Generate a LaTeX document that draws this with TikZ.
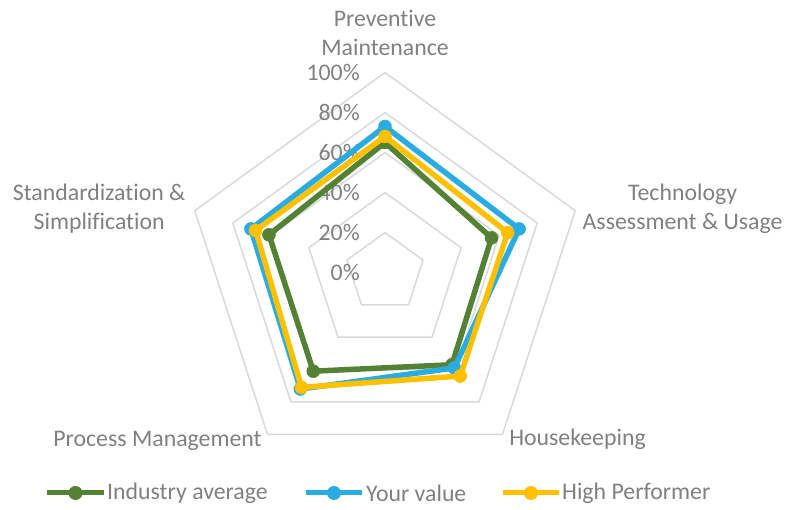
\documentclass[tikz,border=0pt]{standalone}
\usepackage{fontspec}
\setmainfont{Carlito}[Ligatures={NoCommon}]
\usetikzlibrary{positioning,plotmarks}
\definecolor{avggreen}{HTML}{548235}
\definecolor{youblue}{HTML}{2AACE2}
\definecolor{highgold}{HTML}{FFC000}
\definecolor{txtgray}{HTML}{808080}
\definecolor{gridgray}{HTML}{D9D9D9}
\tikzstyle{lbl} = [font=\fontsize{23.8}{29}\selectfont, text=txtgray, inner sep=0pt, align=center]
\tikzstyle{ring} = [draw=gridgray, line width=1.5pt, line join=round]
\tikzstyle{avg} = [draw=avggreen, line width=5.5pt, line join=round, mark=*, mark size=6.5pt, mark options={fill=avggreen, draw=avggreen, line width=0.5pt}]
\tikzstyle{you} = [draw=youblue, line width=5.5pt, line join=round, mark=*, mark size=6.5pt, mark options={fill=youblue, draw=youblue, line width=0.5pt}]
\tikzstyle{high} = [draw=highgold, line width=5.5pt, line join=round, mark=*, mark size=6.5pt, mark options={fill=highgold, draw=highgold, line width=0.5pt}]
\tikzstyle{key} = [circle, inner sep=0pt, minimum size=14pt]

\begin{document}
\begin{tikzpicture}[x=2pt, y=2pt]
\useasboundingbox (-192.5,-118.75) rectangle (201,136.25);

\draw [ring] (90:20) -- (18:20) -- (-54:20) -- (-126:20) -- (162:20) -- cycle;
\draw [ring] (90:40) -- (18:40) -- (-54:40) -- (-126:40) -- (162:40) -- cycle;
\draw [ring] (90:60) -- (18:60) -- (-54:60) -- (-126:60) -- (162:60) -- cycle;
\draw [ring] (90:80) -- (18:80) -- (-54:80) -- (-126:80) -- (162:80) -- cycle;
\draw [ring] (90:100) -- (18:100) -- (-54:100) -- (-126:100) -- (162:100) -- cycle;

\node (p0) [lbl, anchor=east] at (-12.5,0) {0\%};
\node (p20) [lbl, anchor=east] at (-12.5,20) {20\%};
\node (p40) [lbl, anchor=east] at (-12.5,40) {40\%};
\node (p60) [lbl, anchor=east] at (-12.5,60) {60\%};
\node (p80) [lbl, anchor=east] at (-12.5,80) {80\%};
\node (p100) [lbl, anchor=east] at (-12.5,100) {100\%};

\draw [avg] plot coordinates {(90:65) (18:56) (-54:57) (-126:61) (162:61)} -- cycle;
\draw [you] plot coordinates {(90:73) (18:70.5) (-54:59) (-126:72) (162:70.5)} -- cycle;
\draw [high] plot coordinates {(90:68) (18:64.5) (-54:64) (-126:71) (162:68)} -- cycle;

\node (a1) [lbl] at (0,119.6) {Preventive\\Maintenance};
\node (a2) [lbl] at (148.8,32.1) {Technology\\Assessment \& Usage};
\node (a3) [lbl, anchor=base] at (96.25,-86.6) {Housekeeping};
\node (a4) [lbl, anchor=base] at (-113.75,-87.1) {Process Management};
\node (a5) [lbl] at (-142.9,31.8) {Standardization \&\\Simplification};

\coordinate (k1) at (-169,-110.25);
\coordinate (k2) at (-140.5,-110.25);
\coordinate (k3) at (-39.5,-110.25);
\coordinate (k4) at (-11.5,-110.25);
\coordinate (k5) at (59,-110.25);
\coordinate (k6) at (87,-110.25);
\draw [avggreen, line width=5pt] (k1) -- node [key, fill=avggreen] {} (k2);
\draw [youblue, line width=5pt] (k3) -- node [key, fill=youblue] {} (k4);
\draw [highgold, line width=5pt] (k5) -- node [key, fill=highgold] {} (k6);
\node (l1) [lbl, anchor=west, right=3pt of k2] {Industry average};
\node (l2) [lbl, anchor=west, right=4pt of k4] {Your value};
\node (l3) [lbl, anchor=west, right=3pt of k6] {High Performer};

\end{tikzpicture}
\end{document}
